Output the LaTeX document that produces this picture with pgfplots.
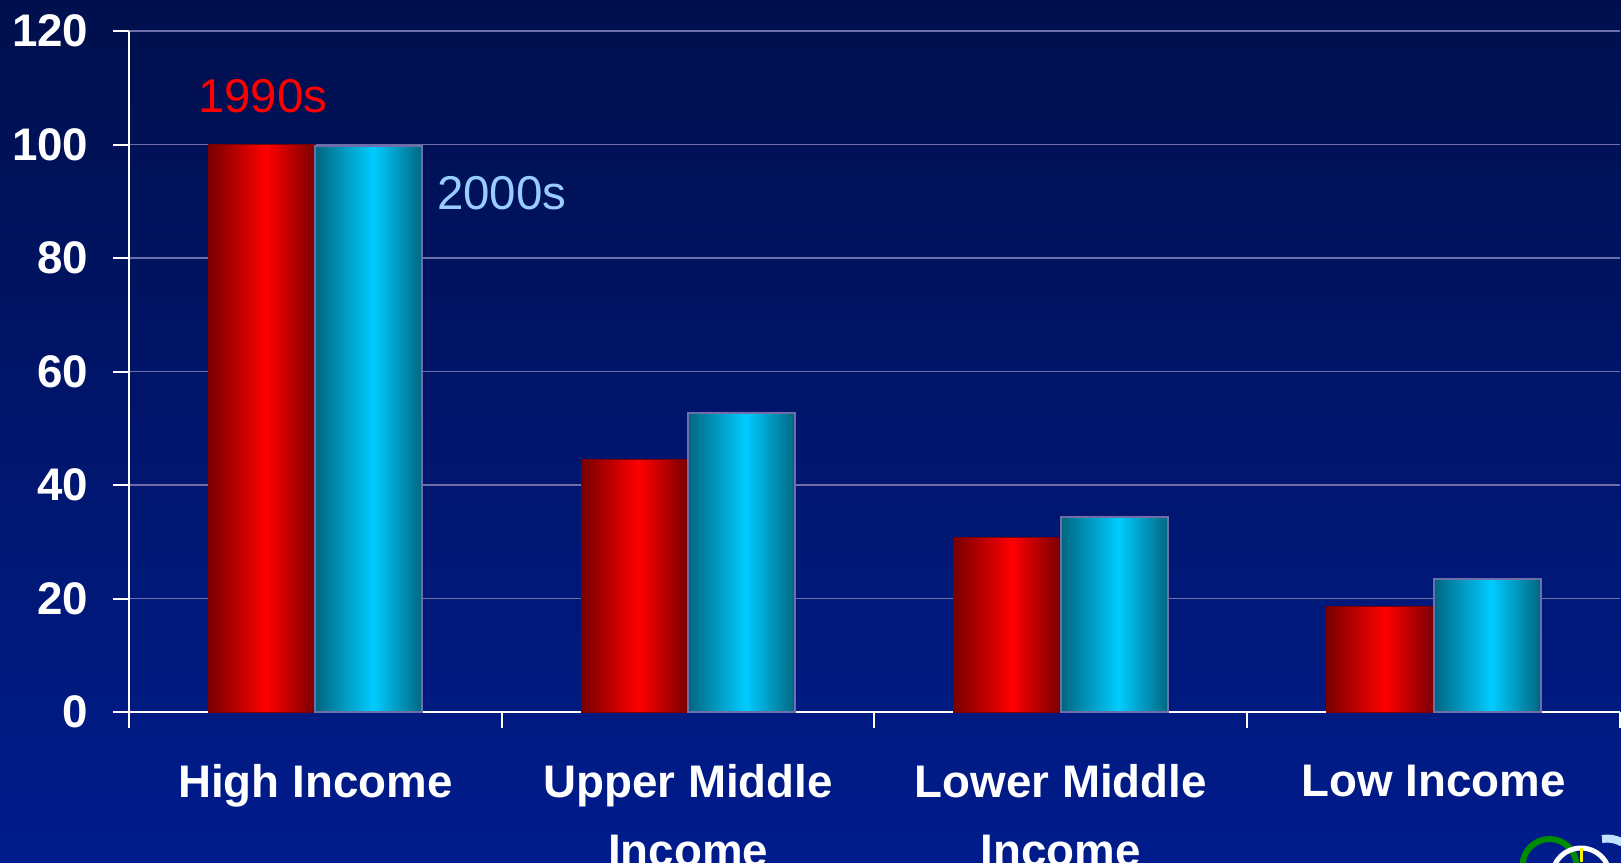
\documentclass[border=0pt]{standalone}
\usepackage{fontspec}
\setmainfont{Liberation Sans}
\usepackage{pgfplots}
\pgfplotsset{compat=1.18}

\definecolor{bgtop}{HTML}{000F4C}
\definecolor{bgbot}{HTML}{001C8C}
\definecolor{reddark}{HTML}{780000}
\definecolor{redlight}{HTML}{FF0000}
\definecolor{cyandark}{HTML}{006680}
\definecolor{cyanlight}{HTML}{00CCFF}
\definecolor{gridc}{HTML}{6E6EAA}
\definecolor{lbl2000}{HTML}{99CCFF}

\pgfdeclarehorizontalshading{redbar}{100bp}{color(0bp)=(reddark); color(25bp)=(reddark); color(52bp)=(redlight); color(75bp)=(reddark); color(100bp)=(reddark)}
\pgfdeclarehorizontalshading{cyanbar}{100bp}{color(0bp)=(cyandark); color(25bp)=(cyandark); color(52bp)=(cyanlight); color(75bp)=(cyandark); color(100bp)=(cyandark)}

\pgfplotsset{
    rbar/.style={draw=reddark, line width=0.1mm, shade, shading=redbar, bar shift=-5.35mm, forget plot},
    cbar/.style={draw=gridc, line width=0.2mm, shade, shading=cyanbar, bar shift=5.35mm, forget plot},
}

\begin{document}
\begin{tikzpicture}
\path[use as bounding box] (0,0) rectangle (162.1mm,86.2mm);
\clip (0,0) rectangle (162.1mm,86.2mm);
\shade[top color=bgtop, bottom color=bgbot] (0,0) rectangle (162.1mm,86.2mm);
\begin{axis}[
    at={(12.9mm,15.0mm)}, anchor=south west,
    scale only axis,
    width=149.1mm, height=68.1mm,
    xmin=-0.5, xmax=3.5,
    ymin=0, ymax=120,
    ytick={0,20,...,120},
    xtick={0,1,2,3},
    xticklabels={High Income, Upper Middle\\Income, Lower Middle\\Income, Low Income},
    extra x ticks={-0.5,0.5,1.5,2.5,3.5},
    extra x tick labels={},
    extra x tick style={xtick style={draw=white, line width=0.2mm}},
    xtick style={draw=none},
    ytick style={draw=white, line width=0.2mm},
    tick align=outside,
    major tick length=1.6mm,
    axis x line*=bottom, axis y line*=left,
    axis line style={white, line width=0.2mm, -},
    ymajorgrids,
    grid style={gridc, line width=0.15mm},
    ybar=0pt, bar width=10.7mm,
    /pgf/number format/assume math mode=true,
    yticklabel style={white, inner sep=0pt, xshift=-2.4mm,
        font=\bfseries\fontsize{13}{15.6}\selectfont},
    xticklabel style={white, inner sep=0pt, yshift=-3.6mm, align=center,
        font=\bfseries\fontsize{13}{19.5}\selectfont},
]
% 1990s
\addplot[rbar] coordinates {(0,100)};
\addplot[rbar] coordinates {(1,44.5)};
\addplot[rbar] coordinates {(2,30.8)};
\addplot[rbar] coordinates {(3,18.6)};
% 2000s
\addplot[cbar] coordinates {(0,99.8)};
\addplot[cbar] coordinates {(1,52.7)};
\addplot[cbar] coordinates {(2,34.4)};
\addplot[cbar] coordinates {(3,23.4)};
\node[text=red, font=\fontsize{13.5}{16}\selectfont] at (axis cs:-0.141,108.5) {1990s};
\node[text=lbl2000, font=\fontsize{13.5}{16}\selectfont] at (axis cs:0.5,91.5) {2000s};
\end{axis}
% partial logo at the lower right corner
\draw[green!55!black, line width=0.6mm] (154.95mm,-0.4mm) circle (2.7mm);
\draw[white, line width=0.5mm] (158.1mm,-1.5mm) circle (2.9mm);
\draw[yellow, line width=0.3mm] (158.1mm,0mm) -- (158.1mm,1.4mm);
\draw[lbl2000!60!white, line width=0.8mm] (160.2mm,2.3mm) arc (100:60:3mm);
\end{tikzpicture}
\end{document}
